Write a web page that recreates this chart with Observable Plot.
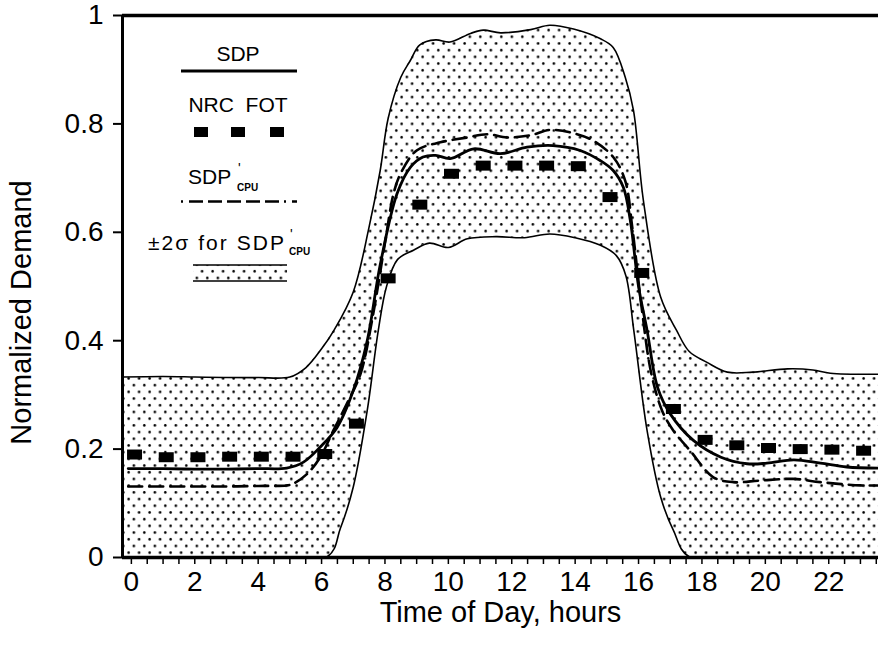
<!DOCTYPE html>
<html><head><meta charset="utf-8">
<script src="https://cdn.jsdelivr.net/npm/d3@7"></script>
<script src="https://cdn.jsdelivr.net/npm/@observablehq/plot@0.6"></script>
<style>body{margin:0;background:#fff}</style>
</head><body><div id="chart"></div>
<script>
// ---- data ----
const upperH = [-0.28, 1, 2, 3, 4, 5, 5.5, 6.0, 6.4, 7.0, 7.5, 7.85, 8.1, 8.5, 8.8, 9.1, 9.6, 10.05, 10.7, 11.1, 11.65, 12.6, 13.2, 13.95, 14.8, 15.2, 15.58, 15.84, 16.15, 16.7, 17.2, 17.6, 18.16, 18.8, 19.6, 20.7, 21.5, 22.05, 23.57];
const upperV = [0.333, 0.334, 0.333, 0.332, 0.332, 0.333, 0.35, 0.385, 0.42, 0.49, 0.61, 0.714, 0.81, 0.886, 0.917, 0.946, 0.955, 0.951, 0.967, 0.973, 0.968, 0.974, 0.982, 0.975, 0.957, 0.941, 0.886, 0.825, 0.66, 0.48, 0.419, 0.38, 0.36, 0.342, 0.342, 0.348, 0.346, 0.340, 0.338];

const lowerH = [-0.28, 6.15, 6.6, 7.0, 7.44, 7.79, 8.05, 8.4, 8.9, 9.4, 10.0, 10.6, 11.5, 12.4, 13.2, 14.0, 14.8, 15.3, 15.6, 15.85, 16.27, 16.7, 17.1, 17.63, 23.57];
const lowerV = [0, 0, 0.055, 0.13, 0.271, 0.419, 0.50, 0.55, 0.567, 0.58, 0.572, 0.588, 0.592, 0.59, 0.597, 0.59, 0.576, 0.557, 0.52, 0.419, 0.234, 0.111, 0.05, 0, 0];

const sdpH = [-0.1, 1, 2, 3, 4, 4.9, 5.43, 5.96, 6.49, 7.0, 7.44, 7.85, 8.38, 8.8, 9.2, 9.6, 10.06, 10.8, 11.64, 12.48, 13.3, 14.16, 14.8, 15.2, 15.52, 15.74, 16.0, 16.27, 16.6, 17.0, 17.73, 18.6, 19.42, 20.05, 20.9, 21.74, 22.57, 23.57];
const sdpV = [0.164, 0.164, 0.163, 0.163, 0.164, 0.165, 0.176, 0.204, 0.240, 0.308, 0.40, 0.54, 0.671, 0.72, 0.739, 0.742, 0.736, 0.754, 0.745, 0.757, 0.760, 0.751, 0.732, 0.714, 0.683, 0.622, 0.50, 0.419, 0.314, 0.265, 0.216, 0.185, 0.173, 0.174, 0.180, 0.174, 0.167, 0.165];

const cpuH = [-0.1, 1, 2, 3, 4, 4.9, 5.1, 5.54, 5.96, 6.37, 6.8, 7.23, 7.6, 8.0, 8.27, 8.49, 9.0, 9.75, 10.6, 11.22, 11.85, 12.59, 13.22, 14.06, 14.57, 15.2, 15.58, 15.8, 16.1, 16.4, 16.75, 17.1, 17.63, 18.36, 18.99, 19.84, 20.88, 21.74, 23.0, 23.57];
const cpuV = [0.131, 0.131, 0.131, 0.131, 0.132, 0.133, 0.136, 0.154, 0.185, 0.234, 0.284, 0.339, 0.44, 0.58, 0.671, 0.708, 0.751, 0.766, 0.775, 0.781, 0.775, 0.779, 0.789, 0.781, 0.769, 0.739, 0.695, 0.61, 0.46, 0.34, 0.27, 0.234, 0.197, 0.148, 0.139, 0.142, 0.145, 0.139, 0.133, 0.133];

const nrcH = [0.1, 1.1, 2.1, 3.1, 4.1, 5.1, 6.1, 7.1, 8.1, 9.1, 10.1, 11.1, 12.1, 13.1, 14.1, 15.1, 16.1, 17.1, 18.1, 19.1, 20.1, 21.1, 22.1, 23.1];
const nrcV = [0.190, 0.185, 0.185, 0.186, 0.186, 0.186, 0.191, 0.247, 0.515, 0.651, 0.708, 0.723, 0.723, 0.723, 0.722, 0.665, 0.525, 0.274, 0.217, 0.207, 0.202, 0.200, 0.199, 0.197];

const xTickLabels = [0, 2, 4, 6, 8, 10, 12, 14, 16, 18, 20, 22];
const xMinorTicks = d3.range(0, 23.6, 0.5);
const yTicks = [0, 0.2, 0.4, 0.6, 0.8, 1];
const yTickLabels = ["0", "0.2", "0.4", "0.6", "0.8", "1"];
const xTitle = "Time of Day, hours";
const yTitle = "Normalized Demand";

// ---- build tables ----
const zip = (H, V) => H.map((h, i) => ({h, v: V[i]}));
const upper = zip(upperH, upperV);
const lower = zip(lowerH, lowerV);
const sdp = zip(sdpH, sdpV);
const cpu = zip(cpuH, cpuV);
const nrc = zip(nrcH, nrcV);

const FONT = "'Liberation Sans', Arial, sans-serif";
const rectSymbol = {draw(ctx) { ctx.rect(-7.5, -5, 15, 10); }};
const xMin = -0.28;

const plot = Plot.plot({
  width: 878, height: 651,
  marginLeft: 122, marginRight: 0, marginTop: 15, marginBottom: 94,
  style: {fontFamily: FONT, background: "white", color: "black", overflow: "visible"},
  x: {domain: [xMin, 23.57], label: null},
  y: {domain: [0, 1], label: null},
  marks: [
    Plot.areaY(upper, {x: "h", y: "v", fill: "url(#stipple)", curve: "catmull-rom", clip: true}),
    Plot.areaY(lower, {x: "h", y: "v", fill: "white", curve: "catmull-rom", clip: true}),
    Plot.line(upper, {x: "h", y: "v", stroke: "black", strokeWidth: 1.6, curve: "catmull-rom", clip: true}),
    Plot.line(lower, {x: "h", y: "v", stroke: "black", strokeWidth: 1.6, curve: "catmull-rom", clip: true}),
    Plot.line(cpu, {x: "h", y: "v", stroke: "black", strokeWidth: 2.6, strokeDasharray: "14,7", curve: "catmull-rom"}),
    Plot.line(sdp, {x: "h", y: "v", stroke: "black", strokeWidth: 2.8, curve: "catmull-rom"}),
    Plot.dot(nrc, {x: "h", y: "v", symbol: rectSymbol, fill: "black", stroke: "none"}),
    Plot.ruleY([0, 1], {stroke: "black", strokeWidth: 3.5}),
    Plot.ruleX([xMin], {stroke: "black", strokeWidth: 3}),
    Plot.axisX(xMinorTicks, {tickSize: 7, tickFormat: () => "", strokeWidth: 1.5, label: null}),
    Plot.axisX(xTickLabels, {tickSize: 0, tickPadding: 14, fontSize: 28, label: null}),
    Plot.axisY(yTicks, {tickSize: 9, tickPadding: 10, fontSize: 28, strokeWidth: 2,
      tickFormat: d => yTickLabels[yTicks.indexOf(d)], label: null}),
    Plot.text([yTitle], {text: d => d, frameAnchor: "left", textAnchor: "middle", rotate: -90, dx: -101, dy: 26, fontSize: 29}),
    Plot.text([xTitle], {text: d => d, frameAnchor: "bottom", textAnchor: "middle", dy: 64, fontSize: 29})
  ]
});

document.getElementById("chart").appendChild(plot);

// stipple pattern
const svg = d3.select(plot);
const defs = svg.insert("defs", ":first-child");
const pat = defs.append("pattern").attr("id", "stipple").attr("patternUnits", "userSpaceOnUse")
  .attr("width", 10.5).attr("height", 13.4);
pat.append("rect").attr("width", 10.5).attr("height", 13.4).attr("fill", "white");
pat.append("circle").attr("cx", 2.6).attr("cy", 3.3).attr("r", 1.3).attr("fill", "black");
pat.append("circle").attr("cx", 7.85).attr("cy", 10.0).attr("r", 1.3).attr("fill", "black");

// legend
const L = svg.append("g").attr("font-family", FONT).attr("fill", "black");
const txt = (x, y, s, size, anchor = "middle", weight = "normal") =>
  L.append("text").attr("x", x).attr("y", y).attr("text-anchor", anchor)
   .attr("dominant-baseline", "central").attr("font-size", size).attr("font-weight", weight).text(s);

txt(238, 53, "SDP", 21);
L.append("line").attr("x1", 181).attr("x2", 297).attr("y1", 71).attr("y2", 71)
  .attr("stroke", "black").attr("stroke-width", 2.8);

txt(238, 104, "NRC  FOT", 21);
[201, 238, 277].forEach(cx => L.append("rect").attr("x", cx - 7).attr("y", 127).attr("width", 14).attr("height", 10));

txt(188, 176, "SDP", 21, "start");
txt(238, 168, "'", 14, "start");
txt(237, 187, "CPU", 10, "start", "bold");
L.append("line").attr("x1", 181).attr("x2", 297).attr("y1", 201.5).attr("y2", 201.5)
  .attr("stroke", "black").attr("stroke-width", 2.6).attr("stroke-dasharray", "2,6,14,5,14,5,14,5,14,5,14,5");

txt(148, 242, "\u00b12\u03c3 for SDP", 21, "start").attr("textLength", 136).attr("lengthAdjust", "spacing");
txt(290, 234, "'", 14, "start");
txt(289, 251, "CPU", 10, "start", "bold");
L.append("rect").attr("x", 193).attr("y", 265).attr("width", 94).attr("height", 16).attr("fill", "url(#stipple)");
L.append("line").attr("x1", 193).attr("x2", 287).attr("y1", 265).attr("y2", 265).attr("stroke", "black").attr("stroke-width", 1.6);
L.append("line").attr("x1", 193).attr("x2", 287).attr("y1", 281).attr("y2", 281).attr("stroke", "black").attr("stroke-width", 1.6);
</script></body></html>
